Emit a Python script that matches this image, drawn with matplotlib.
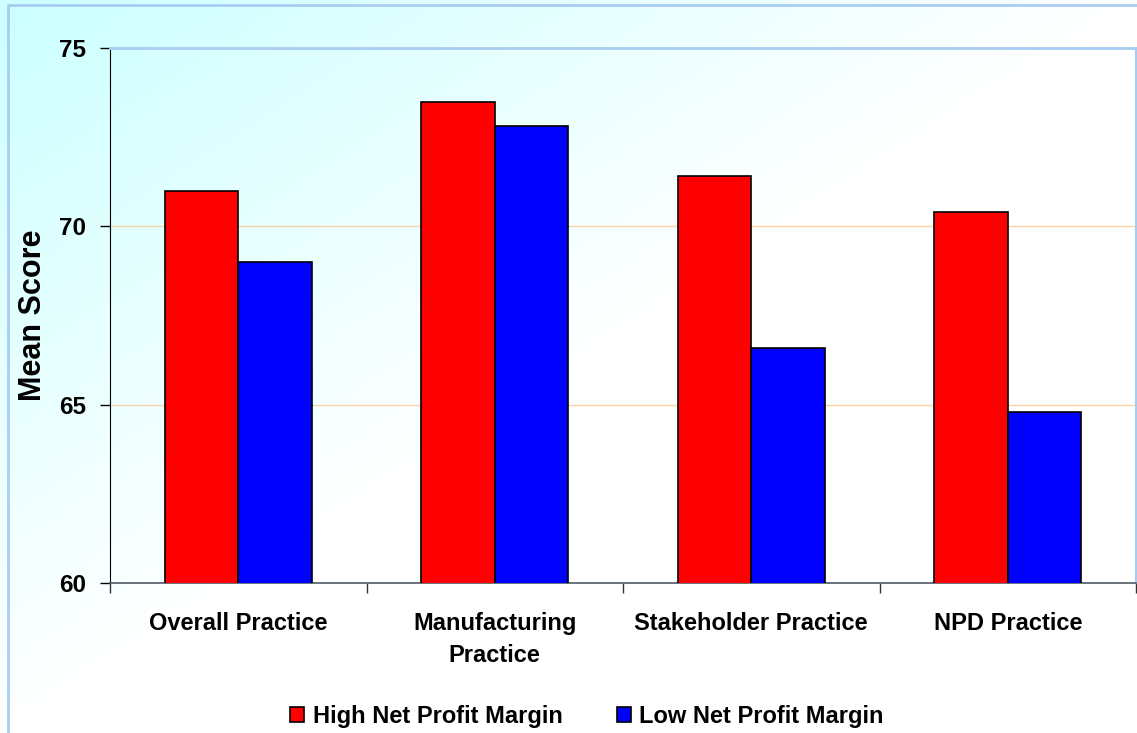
import matplotlib
matplotlib.use('Agg')
import matplotlib.pyplot as plt
import numpy as np
from matplotlib.patches import Rectangle

categories = ['Overall Practice', 'Manufacturing\nPractice', 'Stakeholder Practice', 'NPD Practice']
series_names = ['High Net Profit Margin', 'Low Net Profit Margin']
high_margin = [71.0, 73.5, 71.4, 70.4]
low_margin = [69.0, 72.8, 66.6, 64.8]
y_ticks = [60, 65, 70, 75]

plt.rcParams['font.family'] = ['Liberation Sans', 'DejaVu Sans']
plt.rcParams['font.weight'] = 'bold'

W, H = 1137, 733
fig = plt.figure(figsize=(W / 100, H / 100), dpi=100)

# background gradient: cyan in top-left fading to white
bg = fig.add_axes([0, 0, 1, 1], zorder=-10)
xx, yy = np.meshgrid(np.linspace(0, 1, 300), np.linspace(0, 1, 200))
t = np.clip(xx + yy, 0, 1)
top = np.array([0.80, 1.0, 1.0])
img = top[None, None, :] + (1 - top)[None, None, :] * t[:, :, None]
bg.imshow(img, extent=[0, 1, 0, 1], aspect='auto', origin='upper')
bg.set_xlim(0, 1)
bg.set_ylim(0, 1)
bg.axis('off')
bg.add_patch(Rectangle((8 / W, -0.1), 1.2, 1 - 5 / H + 0.1, fill=False,
                       edgecolor='#a9cdf2', linewidth=2.0))

ax = fig.add_axes([110 / W, 1 - 583 / H, 1026 / W, 535 / H])
ax.set_facecolor('none')

x = np.arange(len(categories))
width = 1 / 3.5
ax.bar(x - width / 2, high_margin, width, color='#ff0000', edgecolor='black',
       linewidth=1.2, label=series_names[0], zorder=3)
ax.bar(x + width / 2, low_margin, width, color='#0000ff', edgecolor='black',
       linewidth=1.2, label=series_names[1], zorder=3)

ax.set_xlim(-0.5, len(categories) - 0.5)
ax.set_ylim(60, 75)
ax.set_yticks(y_ticks)
ax.set_yticklabels([str(v) for v in y_ticks], fontsize=17.5, fontweight='bold')
ax.tick_params(axis='y', direction='out', length=7, width=1, pad=10)

ax.set_xticks(x)
ax.set_xticklabels(categories, fontsize=17, fontweight='bold', linespacing=1.5)
ax.tick_params(axis='x', which='major', length=0, pad=21)
ax.set_xticks(np.arange(len(categories) + 1) - 0.5, minor=True)
ax.tick_params(axis='x', which='minor', direction='out', length=7, width=1, color='#333333')

for v in [65, 70]:
    ax.axhline(v, color='#fbd3a6', linewidth=1, zorder=1)

ax.spines['left'].set_color('black')
ax.spines['bottom'].set_color('#505a66')
ax.spines['bottom'].set_linewidth(1.2)
ax.spines['top'].set_color('#a9cdf2')
ax.spines['top'].set_linewidth(2)
ax.spines['right'].set_color('#a9cdf2')
ax.spines['right'].set_linewidth(1.5)

ax.set_ylabel('Mean Score', fontsize=22, fontweight='bold', labelpad=8)

fig.legend(loc='center', bbox_to_anchor=(587 / W, 1 - 716 / H), ncol=2,
           frameon=False, prop={'size': 17, 'weight': 'bold'},
           handlelength=0.6, handleheight=0.6, handletextpad=0.35,
           columnspacing=2.3)

fig.savefig('out.png', dpi=100)
